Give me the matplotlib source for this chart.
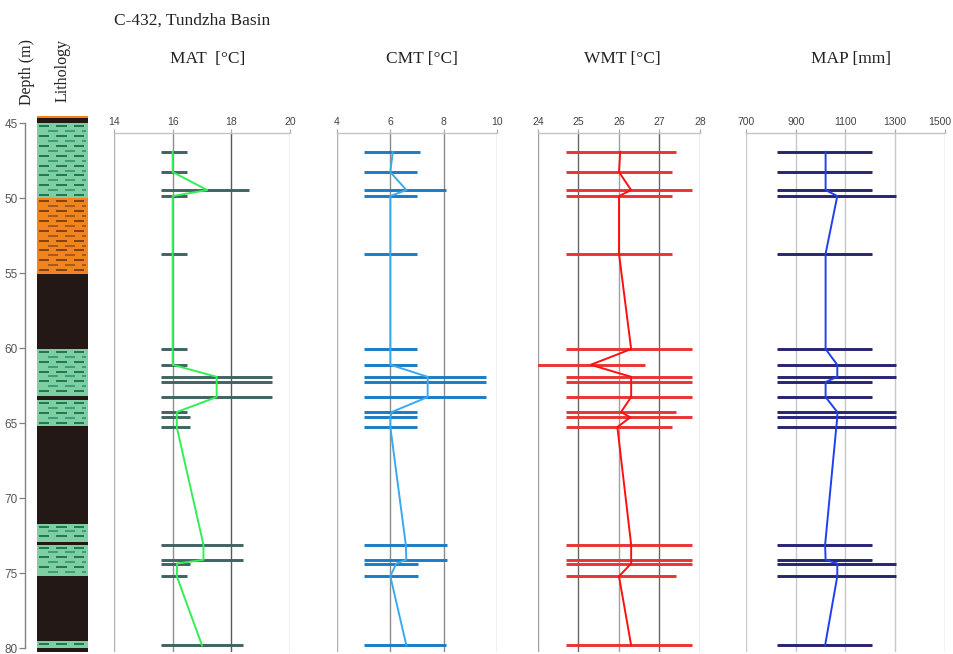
import matplotlib
matplotlib.use("Agg")
import matplotlib.pyplot as plt
import matplotlib.transforms as mtransforms
from matplotlib.collections import LineCollection

W, H = 954, 654

# ---------------- data ----------------
depths = [46.9, 48.25, 49.45, 49.85, 53.7, 60.05, 61.1, 61.9, 62.25, 63.25,
          64.25, 64.6, 65.25, 73.1, 74.1, 74.35, 75.2, 79.8]

mat_mid = [16.0, 16.0, 17.18, 16.0, 16.0, 16.0, 16.0, 17.5, 17.5, 17.5,
           16.14, 16.14, 16.14, 17.05, 17.05, 16.15, 16.14, 17.0]
mat_lo = [15.6] * 18
mat_hi = [16.5, 16.5, 18.6, 16.5, 16.5, 16.5, 16.5, 19.37, 19.37, 19.37,
          16.5, 16.6, 16.6, 18.4, 18.4, 16.6, 16.5, 18.4]

cmt_mid = [6.09, 6.0, 6.6, 6.0, 6.0, 6.0, 6.0, 7.4, 7.4, 7.4,
           6.05, 6.0, 6.0, 6.58, 6.6, 6.22, 6.0, 6.6]
cmt_lo = [5.0] * 18
cmt_hi = [7.1, 7.0, 8.1, 7.0, 7.0, 7.0, 7.0, 9.6, 9.6, 9.6,
          7.0, 7.0, 7.0, 8.12, 8.12, 7.03, 7.03, 8.1]

wmt_mid = [26.03, 26.0, 26.3, 26.0, 26.0, 26.3, 25.3, 26.3, 26.3, 26.3,
           26.05, 26.28, 25.96, 26.3, 26.3, 26.3, 26.0, 26.3]
wmt_lo = [24.7, 24.7, 24.7, 24.7, 24.7, 24.7, 23.95, 24.7, 24.7, 24.7,
          24.7, 24.7, 24.7, 24.7, 24.7, 24.7, 24.7, 24.7]
wmt_hi = [27.4, 27.3, 27.8, 27.3, 27.3, 27.8, 26.65, 27.8, 27.8, 27.8,
          27.4, 27.8, 27.3, 27.8, 27.8, 27.8, 27.4, 27.8]

map_mid = [1020, 1020, 1020, 1067, 1020, 1020, 1067, 1067, 1020, 1020,
           1067, 1067, 1063, 1018, 1020, 1067, 1067, 1018]
map_lo = [823] * 18
map_hi = [1205, 1205, 1205, 1305, 1205, 1205, 1305, 1305, 1205, 1205,
          1305, 1305, 1305, 1205, 1205, 1305, 1305, 1205]

mat_ticks = [14, 16, 18, 20]
cmt_ticks = [4, 6, 8, 10]
wmt_ticks = [24, 25, 26, 27, 28]
map_ticks = [700, 900, 1100, 1300, 1500]
depth_ticks = [45, 50, 55, 60, 65, 70, 75, 80]

litho_top = [44.5, 44.67, 45.0, 50.0, 55.05, 60.05, 63.2, 63.45, 65.2, 71.7, 72.9, 73.1, 75.2, 79.5, 79.96]
litho_bot = [44.67, 45.0, 50.0, 55.05, 60.05, 63.2, 63.45, 65.2, 71.7, 72.9, 73.1, 75.2, 79.5, 79.96, 80.25]
litho_type = ['sand', 'coal', 'clay', 'sand', 'coal', 'clay', 'coal', 'clay', 'coal', 'clay', 'coal',
              'clay', 'coal', 'clay', 'coal']

# ---------------- layout helpers ----------------
def rect(x0, y0, x1, y1):
    return [x0 / W, 1 - y1 / H, (x1 - x0) / W, (y1 - y0) / H]

D0_PY, PX_PER_M = 123.3, 15.0
def depth_at(py):
    return 45 + (py - D0_PY) / PX_PER_M

fig = plt.figure(figsize=(W / 100, H / 100), dpi=100)
fig.patch.set_facecolor('white')

serif = ['Liberation Serif', 'DejaVu Serif']
sans = ['Liberation Sans', 'DejaVu Sans']

# ---------------- titles ----------------
fig.text(114 / W, 1 - 21 / H, 'C-432, Tundzha Basin', family=serif, fontsize=12.5,
         ha='left', va='center', color='#222222')
fig.text(27 / W, 1 - 72 / H, 'Depth (m)', family=serif, fontsize=11.5, rotation=90,
         ha='center', va='center', color='#222222')
fig.text(63 / W, 1 - 71 / H, 'Lithology', family=serif, fontsize=11.5, rotation=90,
         ha='center', va='center', color='#222222')

# ---------------- depth axis ----------------
axd = fig.add_axes(rect(25, D0_PY, 26, D0_PY + 35 * PX_PER_M))
axd.set_ylim(80, 45)
axd.set_xticks([])
for s in ['top', 'right', 'bottom']:
    axd.spines[s].set_visible(False)
axd.spines['left'].set_color('#808080')
axd.spines['left'].set_linewidth(1.0)
axd.set_yticks(depth_ticks)
axd.tick_params(axis='y', length=4, width=0.9, color='#808080', labelsize=8.5,
                labelcolor='#555555', pad=1)
for lab in axd.get_yticklabels():
    lab.set_family(sans)
axd.patch.set_alpha(0)

# ---------------- lithology column ----------------
axl = fig.add_axes(rect(37, 115.7, 88, 652))
axl.set_xlim(0, 1)
axl.set_ylim(depth_at(652), depth_at(115.7))
axl.axis('off')
fill_col = {'clay': '#7dcea2', 'sand': '#f0841f', 'coal': '#231815'}
for t, b, k in zip(litho_top, litho_bot, litho_type):
    axl.axhspan(t, b, xmin=0, xmax=1, color=fill_col[k], lw=0)
    if k in ('clay', 'sand') and b - t > 0.3:
        segs, cols = [], []
        row = 0
        y = t + 0.18
        while y < b - 0.1:
            off = 0.0 if row % 2 == 0 else 0.17
            x = 0.04 + off
            while x < 0.97:
                segs.append([(x, y), (min(x + 0.2, 0.97), y)])
                if k == 'clay':
                    cols.append('#1b6e47' if row % 2 == 0 else '#3a9a6c')
                else:
                    cols.append('#7a3e0e' if row % 2 == 0 else '#a0561a')
                x += 0.34
            row += 1
            y += 0.33
        axl.add_collection(LineCollection(segs, colors=cols, linewidths=1.3))

# ---------------- panels ----------------
panels = [
    (114, 290, mat_ticks, mat_mid, mat_lo, mat_hi, '#3f6462', '#33ee55',
     ['#b0b0b0', '#8e8e8e', '#5a5a5a', '#b0b0b0'], 'MAT  [°C]', 208),
    (337, 497, cmt_ticks, cmt_mid, cmt_lo, cmt_hi, '#1a7cc6', '#3aaaf0',
     ['#b0b0b0', '#8a8a8a', '#8a8a8a', '#b0b0b0'], 'CMT [°C]', 422),
    (538, 700, wmt_ticks, wmt_mid, wmt_lo, wmt_hi, '#ea3434', '#ff1010',
     ['#a0a0a0', '#666666', '#a0a0a0', '#666666', '#a0a0a0'], 'WMT [°C]', 622),
    (746, 945, map_ticks, map_mid, map_lo, map_hi, '#262470', '#1e40f0',
     ['#c8c8c8'] * 5, 'MAP [mm]', 851),
]

for x0, x1, ticks, mid, lo, hi, barc, linec, gridc, title, tx in panels:
    ax = fig.add_axes(rect(x0, 133, x1, 652))
    ax.set_xlim(ticks[0], ticks[-1])
    ax.set_ylim(depth_at(652), depth_at(133))
    ax.patch.set_alpha(0)
    for s in ['left', 'right', 'bottom']:
        ax.spines[s].set_visible(False)
    ax.spines['top'].set_color('#c4c4c4')
    ax.spines['top'].set_linewidth(1.0)
    ax.set_yticks([])
    ax.xaxis.tick_top()
    ax.set_xticks(ticks)
    ax.set_xticklabels([str(t) for t in ticks])
    ax.tick_params(axis='x', length=3, width=0.9, color='#aaaaaa', labelsize=7.5,
                   labelcolor='#444444', pad=1)
    for lab in ax.get_xticklabels():
        lab.set_family(sans)
    for t, c in zip(ticks, gridc):
        ax.axvline(t, color=c, lw=1.0, zorder=1)
    ax.hlines(depths, lo, hi, colors=barc, linewidth=2.1, zorder=2)
    ax.plot(mid, depths, color=linec, lw=1.4, zorder=3)
    fig.text(tx / W, 1 - 59 / H, title, family=serif, fontsize=12.5,
             ha='center', va='center', color='#222222')
    if x1 > 940:
        last = ax.get_xticklabels()[-1]
        last.set_transform(last.get_transform() +
                           mtransforms.ScaledTranslation(-5 / 100, 0, fig.dpi_scale_trans))

fig.savefig('out.png', dpi=100, facecolor='white')
